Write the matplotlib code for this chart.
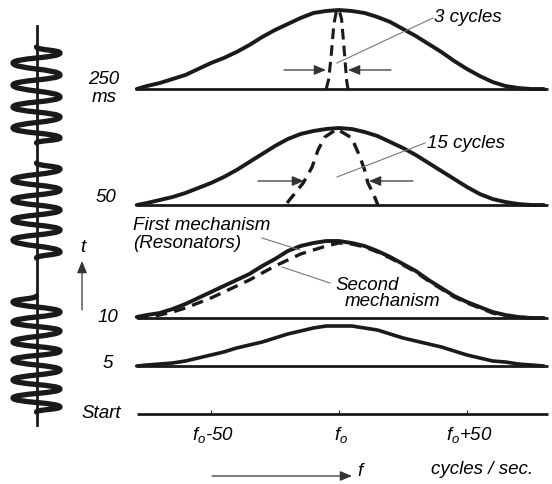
import matplotlib.pyplot as plt
from matplotlib.path import Path
from matplotlib.patches import PathPatch

plt.rcParams['font.family'] = ['Liberation Sans', 'DejaVu Sans']
plt.rcParams['font.style'] = 'italic'
plt.rcParams['mathtext.fontset'] = 'custom'
plt.rcParams['mathtext.it'] = 'Liberation Sans:italic'
plt.rcParams['mathtext.rm'] = 'Liberation Sans:italic'

W, H = 552, 484
F0_PX, PX_PER_HZ = 339, 2.56
INK = '#1a1a1a'

# frequency offset from f0 (Hz) and response heights of each row
freq = [-79, -75, -70, -65, -60, -55, -50, -45, -40, -35, -30, -25, -20, -15, -10, -5, 0,
        5, 10, 15, 20, 25, 30, 35, 40, 45, 50, 55, 60, 65, 70, 75, 80]
resp_250 = [0, 3, 6, 10, 14, 20, 26, 31, 37, 44, 52, 59, 65, 71, 76, 78, 79,
            78, 76, 72, 67, 60, 53, 45, 37, 28, 20, 13, 7, 3, 1, 0, 0]
resp_50 = [0, 2, 5, 8, 12, 17, 22, 28, 35, 43, 51, 59, 66, 71, 74, 76, 77,
           76, 73, 69, 63, 57, 50, 42, 34, 26, 18, 11, 6, 3, 1, 0, 0]
resp_10_first = [1, 3, 5, 9, 14, 20, 26, 32, 38, 44, 52, 59, 67, 72, 75, 77, 77,
                 75, 72, 67, 61, 54, 47, 38, 30, 22, 16, 11, 6, 3, 1, 0, 0]
resp_10_second = [0, 1, 3, 6, 10, 15, 20, 26, 32, 38, 45, 52, 58, 64, 68, 72, 75,
                  74, 71, 66, 60, 53, 46, 37, 29, 21, 15, 10, 5, 2, 1, 0, 0]
resp_5 = [0, 1, 2, 3, 5, 8, 11, 14, 18, 21, 24, 28, 32, 35, 38, 40, 40,
          40, 38, 36, 32, 28, 25, 22, 19, 15, 11, 8, 5, 4, 2, 1, 0]

# narrow responses (short tones)
freq_3cyc = [-5, -4, -3, -2, -1, 0, 1, 2, 3, 3.5]
resp_3cyc = [0, 10, 35, 65, 78, 79, 70, 40, 8, 0]
freq_15cyc = [-20.3, -14, -10.5, -8.2, -5.5, -0.8, 5, 8.2, 10, 11.3, 13.3, 15.2]
resp_15cyc = [2, 22, 38, 55, 68, 76, 67, 48, 35, 22, 12, 0]

row_labels = ['250', '50', '10', '5', 'Start']
row_base = [89, 205, 318, 366, 414]
tick_freqs = [-50, 0, 50]
tick_labels = ['$f_o$-50', '$f_o$', '$f_o$+50']

# stimulus wave: turning points (y) of each burst, first side, start/end
wave_bursts = [
    (47, [53, 63, 75, 85, 97, 107, 117, 128, 138], 'R', 143),
    (163, [169, 180, 190, 200, 210, 220, 230, 240, 252], 'R', 258),
    (296, [302, 312, 322, 331, 342, 351, 360, 370, 380, 389, 398, 407], 'L', 412),
]

fig = plt.figure(figsize=(W / 100, H / 100), dpi=100)

# spectra axes: x in Hz from f0, y in layout units
axf = fig.add_axes([0, 0, 1, 1])
axf.set_xlim(-F0_PX / PX_PER_HZ, (W - F0_PX) / PX_PER_HZ)
axf.set_ylim(H, 0)
axf.axis('off')

for base in row_base:
    axf.hlines(base, -79, 81.6, color=INK, lw=2.0)

def up(base, vals):
    return [base - v for v in vals]

solid = dict(color=INK, solid_capstyle='round', solid_joinstyle='round')
axf.plot(freq, up(row_base[0], resp_250), lw=2.8, **solid)
axf.plot(freq_3cyc, up(row_base[0], resp_3cyc), color=INK, lw=2.2, ls=(0, (3.5, 2)))
axf.plot(freq, up(row_base[1], resp_50), lw=2.8, **solid)
axf.plot(freq_15cyc, up(row_base[1], resp_15cyc), color=INK, lw=2.4, ls=(0, (3.5, 2.2)))
axf.plot(freq, up(row_base[2], resp_10_first), lw=2.8, **solid)
axf.plot(freq, up(row_base[2], resp_10_second), color=INK, lw=2.4, ls=(0, (3.5, 2.2)))
axf.plot(freq, up(row_base[3], resp_5), lw=2.6, **solid)
axf.vlines(tick_freqs, row_base[4] - 4, row_base[4], color=INK, lw=0.8)

# overlay axes in pixel units for the drawing decorations
ax = fig.add_axes([0, 0, 1, 1])
ax.set_xlim(0, W)
ax.set_ylim(H, 0)
ax.axis('off')
ax.patch.set_alpha(0)

# stimulus wave
cx, xl, xr = 36.5, 13, 60
ax.plot([cx, cx], [26, 425], color=INK, lw=2.0)
for y0, turns, first, y1 in wave_bursts:
    side = first
    pts = [(cx, y0)]
    for y in turns:
        pts.append((xr if side == 'R' else xl, y))
        side = 'L' if side == 'R' else 'R'
    pts.append((cx, y1))
    verts, codes = [pts[0]], [Path.MOVETO]
    for (xa, ya), (xb, yb) in zip(pts[:-1], pts[1:]):
        d = 0.5 * (yb - ya)
        verts += [(xa, ya + d), (xb, yb - d), (xb, yb)]
        codes += [Path.CURVE4] * 3
    ax.add_patch(PathPatch(Path(verts, codes), fill=False, ec=INK, lw=3.8,
                           capstyle='round', joinstyle='round'))

# row labels
fs = 13.5
ax.text(104, 79, row_labels[0], fontsize=fs, ha='center', va='center')
ax.text(104, 97, 'ms', fontsize=fs, ha='center', va='center')
ax.text(106, 197, row_labels[1], fontsize=fs, ha='center', va='center')
ax.text(108, 317, row_labels[2], fontsize=fs, ha='center', va='center')
ax.text(108, 364, row_labels[3], fontsize=fs, ha='center', va='center')
ax.text(101, 413, row_labels[4], fontsize=fs, ha='center', va='center')

# frequency tick labels
for f, lab in zip(tick_freqs, tick_labels):
    ax.text(F0_PX + f * PX_PER_HZ + 2, 435, lab, fontsize=fs, ha='center', va='center')
ax.text(482, 469, 'cycles / sec.', fontsize=fs, ha='center', va='center')

arrow = dict(arrowstyle='-|>,head_length=0.6,head_width=0.25', color='#333333',
             lw=0.9, mutation_scale=12, shrinkA=0, shrinkB=0)
ax.annotate('', xy=(352, 476), xytext=(212, 476), arrowprops=arrow)
ax.text(360, 472, 'f', fontsize=fs, ha='center', va='center')
ax.annotate('', xy=(82, 261), xytext=(82, 310), arrowprops=arrow)
ax.text(83, 247, 't', fontsize=fs, ha='center', va='center')

# width arrows
ax.annotate('', xy=(326, 70), xytext=(284, 70), arrowprops=arrow)
ax.annotate('', xy=(348, 70), xytext=(391, 70), arrowprops=arrow)
ax.annotate('', xy=(304, 181), xytext=(258, 181), arrowprops=arrow)
ax.annotate('', xy=(369, 181), xytext=(413, 181), arrowprops=arrow)

# callouts
lead = dict(color='#777777', lw=0.8)
ax.plot([337, 433], [63, 18], **lead)
ax.text(468, 17, '3 cycles', fontsize=fs, ha='center', va='center')
ax.plot([337, 425], [177, 143], **lead)
ax.text(466, 143, '15 cycles', fontsize=fs, ha='center', va='center')
ax.plot([262, 300], [238, 250], **lead)
ax.text(133, 225, 'First mechanism', fontsize=fs, ha='left', va='center')
ax.text(133, 243, '(Resonators)', fontsize=fs, ha='left', va='center')
ax.plot([282, 330], [267, 283], **lead)
ax.text(335, 285, 'Second', fontsize=fs, ha='left', va='center')
ax.text(345, 302, 'mechanism', fontsize=fs, ha='left', va='center')

fig.savefig('out.png', dpi=100)
